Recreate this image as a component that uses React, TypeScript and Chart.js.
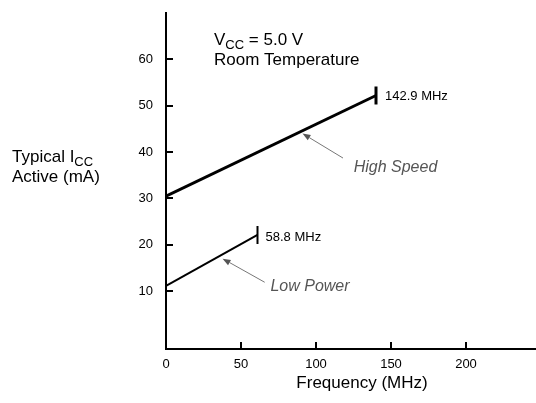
import React, { useEffect, useRef } from "react";
import { Chart, registerables } from "chart.js";

Chart.register(...registerables);

// Data
const xTickValues = [0, 50, 100, 150, 200];
const yTickValues = [10, 20, 30, 40, 50, 60];
const highSpeedFreq = [0, 140];
const highSpeedIcc = [30.5, 52.2];
const lowPowerFreq = [0, 61];
const lowPowerIcc = [11.1, 22.1];
const highSpeedEndLabel = "142.9 MHz";
const lowPowerEndLabel = "58.8 MHz";

const FONT = "'Liberation Sans', Arial, Helvetica, sans-serif";

function drawSubText(ctx: CanvasRenderingContext2D, x: number, y: number, parts: [string, boolean][], size: number) {
  let cx = x;
  for (const [t, sub] of parts) {
    ctx.font = `${sub ? Math.round(size * 0.78) : size}px ${FONT}`;
    ctx.fillText(t, cx, sub ? y + 4 : y);
    cx += ctx.measureText(t).width;
  }
}

function arrow(ctx: CanvasRenderingContext2D, x1: number, y1: number, x2: number, y2: number) {
  const ang = Math.atan2(y2 - y1, x2 - x1);
  const hl = 8, hw = 3;
  const bx = x2 - hl * Math.cos(ang), by = y2 - hl * Math.sin(ang);
  ctx.beginPath();
  ctx.moveTo(x1, y1);
  ctx.lineTo(bx, by);
  ctx.stroke();
  ctx.beginPath();
  ctx.moveTo(x2, y2);
  ctx.lineTo(bx + hw * Math.sin(ang), by - hw * Math.cos(ang));
  ctx.lineTo(bx - hw * Math.sin(ang), by + hw * Math.cos(ang));
  ctx.closePath();
  ctx.fill();
}

const zeroPad = (s: any) => {
  s.paddingTop = 0;
  s.paddingBottom = 0;
  s.paddingLeft = 0;
  s.paddingRight = 0;
};

const annotPlugin = {
  id: "annot",
  afterDraw(chart: any) {
    const { ctx } = chart;
    const xs = chart.scales.x;
    const ys = chart.scales.y;
    const X = (v: number) => xs.getPixelForValue(v);
    const Y = (v: number) => ys.getPixelForValue(v);
    ctx.save();
    // inner ticks
    ctx.strokeStyle = "#000";
    ctx.lineWidth = 2;
    for (const v of yTickValues) {
      const p = Math.round(Y(v));
      ctx.beginPath();
      ctx.moveTo(xs.left, p);
      ctx.lineTo(xs.left + 7, p);
      ctx.stroke();
    }
    for (const v of xTickValues.slice(1)) {
      const p = Math.round(X(v));
      ctx.beginPath();
      ctx.moveTo(p, ys.bottom);
      ctx.lineTo(p, ys.bottom - 7);
      ctx.stroke();
    }
    // end labels
    ctx.fillStyle = "#000";
    ctx.textBaseline = "middle";
    ctx.textAlign = "left";
    ctx.font = `13px ${FONT}`;
    const hsN = highSpeedFreq.length - 1;
    const lpN = lowPowerFreq.length - 1;
    ctx.fillText(highSpeedEndLabel, X(highSpeedFreq[hsN]) + 9, Y(highSpeedIcc[hsN]) + 1);
    ctx.fillText(lowPowerEndLabel, X(lowPowerFreq[lpN]) + 8, Y(lowPowerIcc[lpN]) + 2);

    // conditions text
    ctx.textBaseline = "alphabetic";
    const tx = X(32);
    const ty = Y(63);
    drawSubText(ctx, tx, ty, [["V", false], ["CC", true], [" = 5.0 V", false]], 17);
    ctx.font = `17px ${FONT}`;
    ctx.fillText("Room Temperature", tx, ty + 20);

    // y title
    drawSubText(ctx, 12, 162, [["Typical I", false], ["CC", true]], 17);
    ctx.font = `17px ${FONT}`;
    ctx.fillText("Active (mA)", 12, 182);

    // x title
    ctx.textAlign = "center";
    ctx.fillText("Frequency (MHz)", 362, 388);

    // callouts
    ctx.fillStyle = "#555";
    ctx.strokeStyle = "#777";
    ctx.lineWidth = 1;
    ctx.font = `italic 16px ${FONT}`;
    ctx.textBaseline = "middle";
    ctx.fillText("High Speed", X(153), Y(36.7));
    ctx.fillText("Low Power", X(96), Y(10.9));
    arrow(ctx, X(118), Y(38.7), X(91), Y(44.0));
    arrow(ctx, X(65.8), Y(11.9), X(37.7), Y(17.0));
    ctx.restore();
  },
};

export default function App() {
  const ref = useRef<HTMLCanvasElement | null>(null);
  useEffect(() => {
    document.body.style.margin = "0";
    const canvas = ref.current!;
    const chart = new Chart(canvas, {
      type: "scatter",
      data: {
        datasets: [
          {
            label: "High Speed",
            data: highSpeedFreq.map((f, i) => ({ x: f, y: highSpeedIcc[i] })),
            showLine: true,
            borderColor: "#000",
            backgroundColor: "#000",
            borderWidth: 3,
            pointStyle: "line",
            pointRotation: 90,
            pointRadius: highSpeedFreq.map((_, i) => (i === highSpeedFreq.length - 1 ? 9 : 0)),
            pointBorderWidth: 3,
            pointBorderColor: "#000",
          } as any,
          {
            label: "Low Power",
            data: lowPowerFreq.map((f, i) => ({ x: f, y: lowPowerIcc[i] })),
            showLine: true,
            borderColor: "#000",
            backgroundColor: "#000",
            borderWidth: 2,
            pointStyle: "line",
            pointRotation: 90,
            pointRadius: lowPowerFreq.map((_, i) => (i === lowPowerFreq.length - 1 ? 9 : 0)),
            pointBorderWidth: 2,
            pointBorderColor: "#000",
          } as any,
        ],
      },
      options: {
        animation: false,
        responsive: false,
        events: [],
        layout: { autoPadding: false, padding: { left: 0, top: 13, right: 1, bottom: 0 } },
        plugins: { legend: { display: false }, tooltip: { enabled: false } },
        scales: {
          x: {
            type: "linear",
            min: 0,
            max: 246,
            afterFit: (s: any) => {
              s.height = 54;
              zeroPad(s);
            },
            afterBuildTicks: (s: any) => {
              s.ticks = xTickValues.map((v) => ({ value: v }));
            },
            grid: { display: false, drawTicks: false },
            border: { display: true, color: "#000", width: 2 },
            ticks: {
              padding: 8,
              color: "#000",
              font: { family: FONT, size: 13 },
              maxRotation: 0,
              autoSkip: false,
            },
          },
          y: {
            type: "linear",
            min: -2.5,
            max: 70,
            afterFit: (s: any) => {
              s.width = 166;
              zeroPad(s);
            },
            afterBuildTicks: (s: any) => {
              s.ticks = yTickValues.map((v) => ({ value: v }));
            },
            grid: { display: false, drawTicks: false },
            border: { display: true, color: "#000", width: 2 },
            ticks: {
              padding: 13,
              color: "#000",
              font: { family: FONT, size: 13 },
              autoSkip: false,
            },
          },
        },
      },
      plugins: [annotPlugin],
    });
    return () => chart.destroy();
  }, []);
  return <canvas ref={ref} width={536} height={403} style={{ display: "block" }} />;
}
